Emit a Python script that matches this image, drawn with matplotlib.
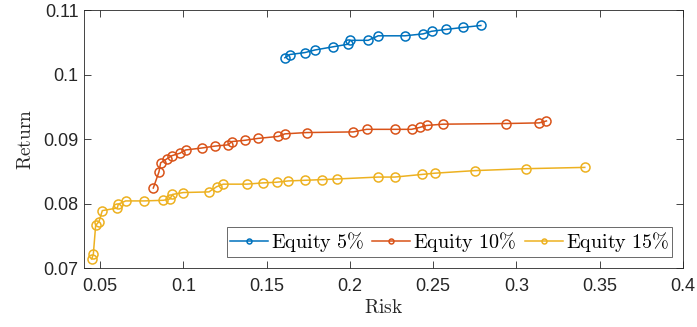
import matplotlib
matplotlib.use("Agg")
import matplotlib.pyplot as plt

# efficient frontiers for three equity allocations
risk_5 = [0.161, 0.164, 0.173, 0.179, 0.190, 0.199, 0.200, 0.211, 0.217, 0.233,
          0.244, 0.249, 0.258, 0.268, 0.2786]
ret_5 = [0.1026, 0.1031, 0.1034, 0.1038, 0.1043, 0.1047, 0.1053, 0.1053, 0.1060, 0.1060,
         0.1063, 0.1067, 0.1070, 0.1073, 0.1076]

risk_10 = [0.082, 0.0854, 0.0864, 0.090, 0.093, 0.098, 0.1014, 0.111, 0.119, 0.127,
           0.129, 0.137, 0.145, 0.157, 0.161, 0.174, 0.202, 0.210, 0.227, 0.237,
           0.242, 0.246, 0.256, 0.294, 0.3136, 0.318]
ret_10 = [0.0824, 0.0849, 0.0863, 0.0869, 0.0874, 0.0878, 0.0883, 0.0886, 0.0889, 0.0891,
          0.0896, 0.0898, 0.0901, 0.0904, 0.0908, 0.0910, 0.0911, 0.0915, 0.0915, 0.0915,
          0.0918, 0.0921, 0.0923, 0.0924, 0.0925, 0.0928]

risk_15 = [0.045, 0.046, 0.0474, 0.0494, 0.0514, 0.0604, 0.061, 0.0654, 0.0764, 0.088,
           0.092, 0.0934, 0.100, 0.1154, 0.120, 0.124, 0.138, 0.148, 0.156, 0.163,
           0.173, 0.183, 0.192, 0.217, 0.227, 0.243, 0.251, 0.275, 0.306, 0.341]
ret_15 = [0.0714, 0.0721, 0.0766, 0.0772, 0.0789, 0.0793, 0.0799, 0.0804, 0.0804, 0.0805,
          0.0807, 0.0814, 0.0817, 0.0818, 0.0826, 0.0830, 0.0830, 0.0832, 0.0833, 0.0835,
          0.0836, 0.0837, 0.0838, 0.0841, 0.0841, 0.0845, 0.0847, 0.0851, 0.0854, 0.0856]

labels = [r'$\mathrm{Equity\ 5\%}$', r'$\mathrm{Equity\ 10\%}$', r'$\mathrm{Equity\ 15\%}$']
colors = ['#0072BD', '#D95319', '#EDB120']

xticks = [0.05, 0.1, 0.15, 0.2, 0.25, 0.3, 0.35, 0.4]
yticks = [0.07, 0.08, 0.09, 0.1, 0.11]

plt.rcParams['mathtext.fontset'] = 'cm'
plt.rcParams['font.family'] = 'Liberation Sans'

fig = plt.figure(figsize=(6.97, 3.27), dpi=100)
ax = fig.add_axes([0.1205, 0.1804, 0.8595, 0.789])

series = [(risk_5, ret_5), (risk_10, ret_10), (risk_15, ret_15)]
for (x, y), c, lab in zip(series, colors, labels):
    ax.plot(x, y, '-o', color=c, lw=1.1, ms=6.5, mfc='none', mew=1.1, label=lab)

ax.set_xlim(0.0404, 0.4)
ax.set_ylim(0.07, 0.11)
ax.set_xticks(xticks)
ax.set_xticklabels(['0.05', '0.1', '0.15', '0.2', '0.25', '0.3', '0.35', '0.4'])
ax.set_yticks(yticks)
ax.set_yticklabels(['0.07', '0.08', '0.09', '0.1', '0.11'])

axcol = '#262626'
for s in ax.spines.values():
    s.set_color(axcol)
    s.set_linewidth(0.6)
ax.tick_params(direction='in', top=True, right=True, length=5, width=0.6,
               colors=axcol, labelsize=13)
ax.tick_params(axis='x', pad=7)
ax.tick_params(axis='y', pad=4)

ax.set_xlabel(r'$\mathrm{Risk}$', fontsize=14, color=axcol, labelpad=3)
ax.set_ylabel(r'$\mathrm{Return}$', fontsize=14, color=axcol, labelpad=6)

leg = ax.legend(loc='lower right', ncol=3, fontsize=14.5, frameon=True, fancybox=False,
                edgecolor=axcol, borderpad=0.15, handlelength=1.9, handletextpad=0.15,
                columnspacing=0.4, borderaxespad=0.55, markerscale=0.55)
leg.get_frame().set_linewidth(0.6)

fig.savefig('out.png', dpi=100)
